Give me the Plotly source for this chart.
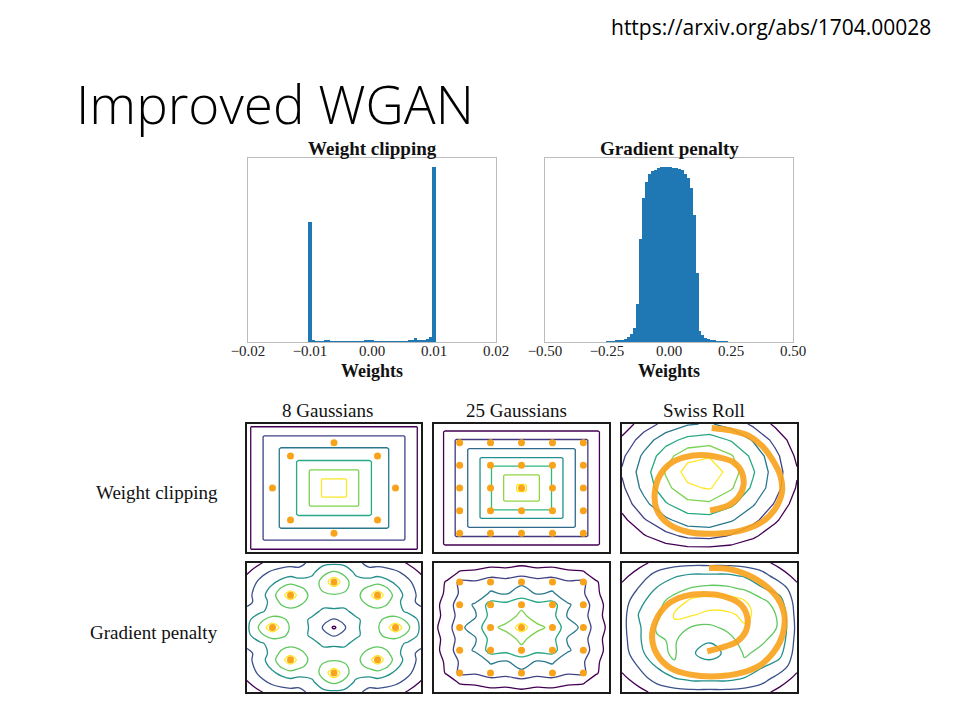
import plotly.graph_objects as go

# ------------------------------------------------------------------ data
# histogram: weight clipping (bin centres, counts)
wc_bins = [-0.0100, -0.0095, -0.0090, -0.0085, -0.0080, -0.0075, -0.0070, -0.0065, -0.0060,
           -0.0055, -0.0050, -0.0045, -0.0040, -0.0035, -0.0030, -0.0025, -0.0020, -0.0015,
           -0.0010, -0.0005, 0.0000, 0.0005, 0.0010, 0.0015, 0.0020, 0.0025, 0.0030, 0.0035,
           0.0040, 0.0045, 0.0050, 0.0055, 0.0060, 0.0065, 0.0070, 0.0075, 0.0080, 0.0085,
           0.0090, 0.0095, 0.0100]
wc_counts = [686, 8, 4, 3, 3, 6, 8, 4, 3, 2, 3, 4, 5, 4, 5, 3, 4, 5, 6, 8, 6, 3, 2, 3, 2, 3,
             2, 4, 3, 4, 3, 5, 8, 12, 22, 14, 10, 12, 18, 30, 1000]

# histogram: gradient penalty (bin centres, relative counts)
gp_bins = [-0.247, -0.235, -0.223, -0.211, -0.199, -0.187, -0.175, -0.163, -0.151, -0.139,
           -0.127, -0.115, -0.103, -0.091, -0.079, -0.067, -0.055, -0.043, -0.031, -0.019,
           -0.007, 0.005, 0.017, 0.029, 0.041, 0.053, 0.065, 0.077, 0.089, 0.101, 0.113,
           0.125, 0.137, 0.149, 0.161, 0.173, 0.185, 0.197, 0.209, 0.221, 0.233]
gp_counts = [0.002, 0.003, 0.004, 0.006, 0.008, 0.012, 0.018, 0.03, 0.045, 0.08, 0.217, 0.59,
             0.82, 0.916, 0.958, 0.975, 0.985, 0.993, 0.997, 1.0, 1.0, 1.0, 0.996, 0.993,
             0.99, 0.98, 0.96, 0.935, 0.878, 0.726, 0.394, 0.065, 0.042, 0.025, 0.015, 0.01,
             0.006, 0.004, 0.003, 0.002, 0.001]

wc_tickvals = [-0.02, -0.01, 0.0, 0.01, 0.02]
wc_ticktext = ["\u22120.02", "\u22120.01", "0.00", "0.01", "0.02"]
gp_tickvals = [-0.5, -0.25, 0.0, 0.25, 0.5]
gp_ticktext = ["\u22120.50", "\u22120.25", "0.00", "0.25", "0.50"]

# toy data sets
g8_x = [0.707, 0.5, 0.0, -0.5, -0.707, -0.5, 0.0, 0.5]
g8_y = [0.0, 0.5, 0.707, 0.5, 0.0, -0.5, -0.707, -0.5]
g25_x = [-0.707, -0.354, 0.0, 0.354, 0.707] * 5
g25_y = [-0.707] * 5 + [-0.354] * 5 + [0.0] * 5 + [0.354] * 5 + [0.707] * 5

sr_wc_x = [0.025, 0.254, 0.446, 0.598, 0.713, 0.809, 0.828, 0.751, 0.598, 0.369, 0.063,
           -0.243, -0.472, -0.606, -0.625, -0.568, -0.453, -0.281, -0.09, 0.101, 0.273,
           0.369, 0.388, 0.331, 0.216, 0.063, 0.006]
sr_wc_y = [0.938, 0.896, 0.818, 0.662, 0.455, 0.195, -0.065, -0.325, -0.532, -0.662, -0.714,
           -0.688, -0.558, -0.325, -0.065, 0.195, 0.377, 0.481, 0.517, 0.481, 0.403, 0.247,
           0.039, -0.143, -0.273, -0.335, -0.351]
sr_gp_x = [-0.006, 0.205, 0.434, 0.625, 0.778, 0.855, 0.836, 0.740, 0.587, 0.358, 0.09,
           -0.216, -0.446, -0.598, -0.656, -0.618, -0.484, -0.293, -0.063, 0.166, 0.358,
           0.434, 0.415, 0.319, 0.185, 0.052, -0.025]
sr_gp_y = [0.922, 0.912, 0.819, 0.664, 0.457, 0.199, -0.111, -0.370, -0.576, -0.705, -0.757,
           -0.731, -0.628, -0.421, -0.163, 0.096, 0.354, 0.483, 0.519, 0.483, 0.354, 0.147,
           -0.059, -0.214, -0.292, -0.344, -0.370]

# critic value grids (rows bottom -> top), estimated from the contour drawings
grid_a = [-1, -0.95, -0.8, -0.61, -0.41, -0.27, -0.13, 0, 0.13, 0.27, 0.41, 0.61, 0.8, 0.95, 1]
z_wc8 = [
    [4, 4, 4, 4, 4, 4, 4, 4, 4, 4, 4, 4, 4, 4, 4],
    [4, 11, 11, 11, 11, 11, 11, 11, 11, 11, 11, 11, 11, 11, 4],
    [4, 11, 21, 21, 21, 21, 21, 21, 21, 21, 21, 21, 21, 11, 4],
    [4, 11, 21, 31, 31, 31, 31, 31, 31, 31, 31, 31, 21, 11, 4],
    [4, 11, 21, 31, 41, 41, 41, 41, 41, 41, 41, 31, 21, 11, 4],
    [4, 11, 21, 31, 41, 51, 51, 51, 51, 51, 41, 31, 21, 11, 4],
    [4, 11, 21, 31, 41, 51, 61, 61, 61, 51, 41, 31, 21, 11, 4],
    [4, 11, 21, 31, 41, 51, 61, 66, 61, 51, 41, 31, 21, 11, 4],
    [4, 11, 21, 31, 41, 51, 61, 61, 61, 51, 41, 31, 21, 11, 4],
    [4, 11, 21, 31, 41, 51, 51, 51, 51, 51, 41, 31, 21, 11, 4],
    [4, 11, 21, 31, 41, 41, 41, 41, 41, 41, 41, 31, 21, 11, 4],
    [4, 11, 21, 31, 31, 31, 31, 31, 31, 31, 31, 31, 21, 11, 4],
    [4, 11, 21, 21, 21, 21, 21, 21, 21, 21, 21, 21, 21, 11, 4],
    [4, 11, 11, 11, 11, 11, 11, 11, 11, 11, 11, 11, 11, 11, 4],
    [4, 4, 4, 4, 4, 4, 4, 4, 4, 4, 4, 4, 4, 4, 4],
]

grid_b = [-1, -0.875, -0.745, -0.6, -0.46, -0.33, -0.19, -0.04, 0, 0.04, 0.19, 0.33, 0.46,
          0.6, 0.745, 0.875, 1]
z_wc25 = [
    [3, 3, 3, 3, 3, 3, 3, 3, 3, 3, 3, 3, 3, 3, 3, 3, 3],
    [3, 11, 11, 11, 11, 11, 11, 11, 11, 11, 11, 11, 11, 11, 11, 11, 3],
    [3, 11, 21, 21, 21, 21, 21, 21, 21, 21, 21, 21, 21, 21, 21, 11, 3],
    [3, 11, 21, 31, 31, 31, 31, 31, 31, 31, 31, 31, 31, 31, 21, 11, 3],
    [3, 11, 21, 31, 41, 41, 41, 41, 41, 41, 41, 41, 41, 31, 21, 11, 3],
    [3, 11, 21, 31, 41, 51, 51, 51, 51, 51, 51, 51, 41, 31, 21, 11, 3],
    [3, 11, 21, 31, 41, 51, 61, 61, 61, 61, 61, 51, 41, 31, 21, 11, 3],
    [3, 11, 21, 31, 41, 51, 61, 71, 71, 71, 61, 51, 41, 31, 21, 11, 3],
    [3, 11, 21, 31, 41, 51, 61, 71, 75, 71, 61, 51, 41, 31, 21, 11, 3],
    [3, 11, 21, 31, 41, 51, 61, 71, 71, 71, 61, 51, 41, 31, 21, 11, 3],
    [3, 11, 21, 31, 41, 51, 61, 61, 61, 61, 61, 51, 41, 31, 21, 11, 3],
    [3, 11, 21, 31, 41, 51, 51, 51, 51, 51, 51, 51, 41, 31, 21, 11, 3],
    [3, 11, 21, 31, 41, 41, 41, 41, 41, 41, 41, 41, 41, 31, 21, 11, 3],
    [3, 11, 21, 31, 31, 31, 31, 31, 31, 31, 31, 31, 31, 31, 21, 11, 3],
    [3, 11, 21, 21, 21, 21, 21, 21, 21, 21, 21, 21, 21, 21, 21, 11, 3],
    [3, 11, 11, 11, 11, 11, 11, 11, 11, 11, 11, 11, 11, 11, 11, 11, 3],
    [3, 3, 3, 3, 3, 3, 3, 3, 3, 3, 3, 3, 3, 3, 3, 3, 3],
]

grid_c = [-1, -0.75, -0.5, -0.25, 0, 0.25, 0.5, 0.75, 1]
z_wcsr = [
    [0, 0, 2, 4, 4, 3, 0, 0, 0],
    [0, 9, 17, 22, 23, 19, 12, 3, 0],
    [7, 19, 28, 35, 36, 31, 23, 12, 0],
    [14, 27, 39, 47, 48, 42, 31, 19, 5],
    [18, 33, 47, 58, 61, 51, 38, 24, 9],
    [21, 35, 51, 64, 68, 55, 41, 25, 11],
    [18, 32, 46, 57, 59, 51, 37, 23, 8],
    [12, 25, 36, 43, 45, 39, 29, 17, 4],
    [4, 15, 23, 29, 31, 26, 18, 8, 0],
]

grid_d = [-1, -0.85, -0.707, -0.6, -0.5, -0.4, -0.25, -0.12, 0, 0.12, 0.25, 0.4, 0.5, 0.6,
          0.707, 0.85, 1]
z_gp8 = [
    [3, 9, 14, 16, 17, 17, 23, 27, 28, 27, 23, 17, 17, 16, 14, 9, 3],
    [9, 17, 22, 24, 25, 24, 28, 38, 42, 38, 28, 24, 25, 24, 22, 17, 9],
    [14, 22, 28, 33, 37, 34, 34, 44, 58, 44, 34, 34, 37, 33, 28, 22, 14],
    [16, 24, 33, 42, 46, 43, 35, 42, 46, 42, 35, 43, 46, 42, 33, 24, 16],
    [17, 25, 37, 46, 58, 46, 37, 38, 39, 38, 37, 46, 58, 46, 37, 25, 17],
    [17, 24, 34, 43, 46, 43, 36, 34, 35, 34, 36, 43, 46, 43, 34, 24, 17],
    [23, 28, 34, 35, 37, 36, 33, 28, 28, 28, 33, 36, 37, 35, 34, 28, 23],
    [27, 38, 44, 42, 38, 34, 28, 22, 19, 22, 28, 34, 38, 42, 44, 38, 27],
    [28, 42, 58, 46, 39, 35, 28, 19, 8, 19, 28, 35, 39, 46, 58, 42, 28],
    [27, 38, 44, 42, 38, 34, 28, 22, 19, 22, 28, 34, 38, 42, 44, 38, 27],
    [23, 28, 34, 35, 37, 36, 33, 28, 28, 28, 33, 36, 37, 35, 34, 28, 23],
    [17, 24, 34, 43, 46, 43, 36, 34, 35, 34, 36, 43, 46, 43, 34, 24, 17],
    [17, 25, 37, 46, 58, 46, 37, 38, 39, 38, 37, 46, 58, 46, 37, 25, 17],
    [16, 24, 33, 42, 46, 43, 35, 42, 46, 42, 35, 43, 46, 42, 33, 24, 16],
    [14, 22, 28, 33, 37, 34, 34, 44, 58, 44, 34, 34, 37, 33, 28, 22, 14],
    [9, 17, 22, 24, 25, 24, 28, 38, 42, 38, 28, 24, 25, 24, 22, 17, 9],
    [3, 9, 14, 16, 17, 17, 23, 27, 28, 27, 23, 17, 17, 16, 14, 9, 3],
]

grid_e = [-1, -0.85, -0.707, -0.53, -0.354, -0.18, 0, 0.18, 0.354, 0.53, 0.707, 0.85, 1]
z_gp25 = [
    [0, 2, 5, 5, 7, 7, 8, 7, 7, 5, 5, 2, 0],
    [2, 5, 11, 12, 14, 13, 15, 13, 14, 12, 11, 5, 2],
    [5, 11, 22, 21, 26, 24, 28, 24, 26, 21, 22, 11, 5],
    [5, 12, 21, 24, 31, 29, 34, 29, 31, 24, 21, 12, 5],
    [7, 14, 26, 31, 44, 43, 48, 43, 44, 31, 26, 14, 7],
    [7, 13, 24, 29, 43, 46, 52, 46, 43, 29, 24, 13, 7],
    [8, 15, 28, 34, 48, 52, 65, 52, 48, 34, 28, 15, 8],
    [7, 13, 24, 29, 43, 46, 52, 46, 43, 29, 24, 13, 7],
    [7, 14, 26, 31, 44, 43, 48, 43, 44, 31, 26, 14, 7],
    [5, 12, 21, 24, 31, 29, 34, 29, 31, 24, 21, 12, 5],
    [5, 11, 22, 21, 26, 24, 28, 24, 26, 21, 22, 11, 5],
    [2, 5, 11, 12, 14, 13, 15, 13, 14, 12, 11, 5, 2],
    [0, 2, 5, 5, 7, 7, 8, 7, 7, 5, 5, 2, 0],
]

grid_f = [-1, -0.8, -0.6, -0.4, -0.2, 0, 0.2, 0.4, 0.6, 0.8, 1]
z_gpsr = [
    [1, 7, 13, 16, 17, 17, 17, 16, 13, 7, 1],
    [7, 15, 24, 29, 32, 32, 32, 29, 24, 15, 7],
    [13, 21, 31, 39, 37, 34, 36, 38, 31, 26, 13],
    [15, 27, 38, 41, 31, 26, 32, 41, 38, 33, 15],
    [16, 29, 39, 41, 34, 31, 36, 44, 41, 37, 16],
    [17, 29, 41, 48, 39, 38, 42, 49, 45, 39, 17],
    [16, 31, 38, 51, 51, 47, 48, 52, 47, 38, 16],
    [15, 27, 37, 44, 53, 56, 56, 51, 43, 34, 15],
    [13, 21, 31, 37, 41, 43, 42, 39, 31, 26, 13],
    [7, 15, 24, 29, 32, 32, 32, 29, 24, 15, 7],
    [1, 7, 13, 16, 17, 17, 17, 16, 13, 7, 1],
]

# ------------------------------------------------------------------ layout helpers
W, H = 960, 720
OX, OY = 8, 8          # the page body offsets the figure by its default margin
SERIF = "Liberation Serif, Times New Roman, serif"
ORANGE = "#f9a31b"
BLUE = "#1f77b4"


def xdom(x0, x1):
    return [(x0 - OX) / W, (x1 - OX) / W]


def ydom(y0, y1):
    return [1 - (y1 - OY) / H, 1 - (y0 - OY) / H]


fig = go.Figure()

# histograms
fig.add_trace(go.Bar(x=wc_bins, y=wc_counts, width=0.0005, marker=dict(color=BLUE, line=dict(width=0)),
                     xaxis="x", yaxis="y"))
fig.add_trace(go.Bar(x=gp_bins, y=gp_counts, width=0.012, marker=dict(color=BLUE, line=dict(width=0)),
                     xaxis="x2", yaxis="y2"))

panels = [
    ("x3", "y3", grid_a, z_wc8, 10, 60, 0),
    ("x4", "y4", grid_b, z_wc25, 10, 70, 0),
    ("x5", "y5", grid_c, z_wcsr, 10, 60, 0),
    ("x6", "y6", grid_d, z_gp8, 10, 50, 1.0),
    ("x7", "y7", grid_e, z_gp25, 10, 60, 1.0),
    ("x8", "y8", grid_f, z_gpsr, 10, 50, 1.2),
]
for xa, ya, g, z, c0, c1, sm in panels:
    fig.add_trace(go.Contour(x=g, y=g, z=z, xaxis=xa, yaxis=ya, colorscale="Viridis",
                             showscale=False, hoverinfo="skip",
                             contours=dict(coloring="lines", start=c0, end=c1, size=10),
                             line=dict(width=1.3, smoothing=sm)))

# data points
for xa, ya, px, py in [("x3", "y3", g8_x, g8_y), ("x4", "y4", g25_x, g25_y),
                       ("x6", "y6", g8_x, g8_y), ("x7", "y7", g25_x, g25_y)]:
    fig.add_trace(go.Scatter(x=px, y=py, mode="markers", xaxis=xa, yaxis=ya,
                             marker=dict(color=ORANGE, size=7, line=dict(width=0))))
for xa, ya, px, py in [("x5", "y5", sr_wc_x, sr_wc_y), ("x8", "y8", sr_gp_x, sr_gp_y)]:
    fig.add_trace(go.Scatter(x=px, y=py, mode="lines", xaxis=xa, yaxis=ya, opacity=0.9,
                             line=dict(color=ORANGE, width=6, shape="spline", smoothing=1.0)))

layout = dict(
    template="none",
    width=W, height=H, margin=dict(l=0, r=0, t=0, b=0, pad=0, autoexpand=False),
    paper_bgcolor="white", plot_bgcolor="white", showlegend=False, bargap=0,
)

hist_axis = dict(showline=True, mirror=True, linecolor="#bcbcbc", linewidth=1.4,
                 showgrid=False, zeroline=False, ticks="", fixedrange=True, automargin=False)
layout["xaxis"] = dict(hist_axis, domain=xdom(248, 496), range=[-0.02, 0.02], anchor="y",
                       tickvals=wc_tickvals, ticktext=wc_ticktext, ticklabelstandoff=-5,
                       tickfont=dict(family=SERIF, size=15, color="#222"))
layout["yaxis"] = dict(hist_axis, domain=ydom(158, 342), range=[0, 1051], anchor="x",
                       showticklabels=False)
layout["xaxis2"] = dict(hist_axis, domain=xdom(545, 793), range=[-0.5, 0.5], anchor="y2",
                        tickvals=gp_tickvals, ticktext=gp_ticktext, ticklabelstandoff=-5,
                        tickfont=dict(family=SERIF, size=15, color="#222"))
layout["yaxis2"] = dict(hist_axis, domain=ydom(158, 342), range=[0, 1.051], anchor="x2",
                        showticklabels=False)

cont_axis = dict(showline=True, mirror=True, linecolor="#1a1a1a", linewidth=1.6,
                 showgrid=False, zeroline=False, ticks="", showticklabels=False,
                 range=[-1, 1], fixedrange=True, automargin=False)
cols = [(247, 421), (434, 609), (622, 797)]
rows = [(424, 552), (563, 692)]
k = 3
for r in rows:
    for c in cols:
        layout[f"xaxis{k}"] = dict(cont_axis, domain=xdom(*c), anchor=f"y{k}")
        layout[f"yaxis{k}"] = dict(cont_axis, domain=ydom(*r), anchor=f"x{k}")
        k += 1


def ann(text, x, y, size, family=SERIF, xanchor="center", weight=None, color="#111"):
    f = dict(family=family, size=size, color=color)
    if weight is not None:
        f["weight"] = weight
    return dict(text=text, x=(x - OX) / W, y=1 - (y - OY) / H, xref="paper", yref="paper",
                xanchor=xanchor, yanchor="middle", showarrow=False, font=f)


layout["annotations"] = [
    ann("Improved WGAN", 74, 104, 53, family="Open Sans, sans-serif", xanchor="left",
        weight=300, color="#000"),
    ann("https://arxiv.org/abs/1704.00028", 933, 27, 21, family="Open Sans, sans-serif",
        xanchor="right", color="#000"),
    ann("Weight clipping", 372, 149, 19, weight="bold"),
    ann("Gradient penalty", 669, 149, 19, weight="bold"),
    ann("Weights", 372, 371, 18, weight="bold"),
    ann("Weights", 669, 371, 18, weight="bold"),
    ann("8 Gaussians", 327, 410, 19),
    ann("25 Gaussians", 516, 410, 19),
    ann("Swiss Roll", 704, 410, 19),
    ann("Weight clipping", 220, 492, 19, xanchor="right"),
    ann("Gradient penalty", 220, 632, 19, xanchor="right"),
]

fig.update_layout(**layout)
fig.write_html("out.html")
